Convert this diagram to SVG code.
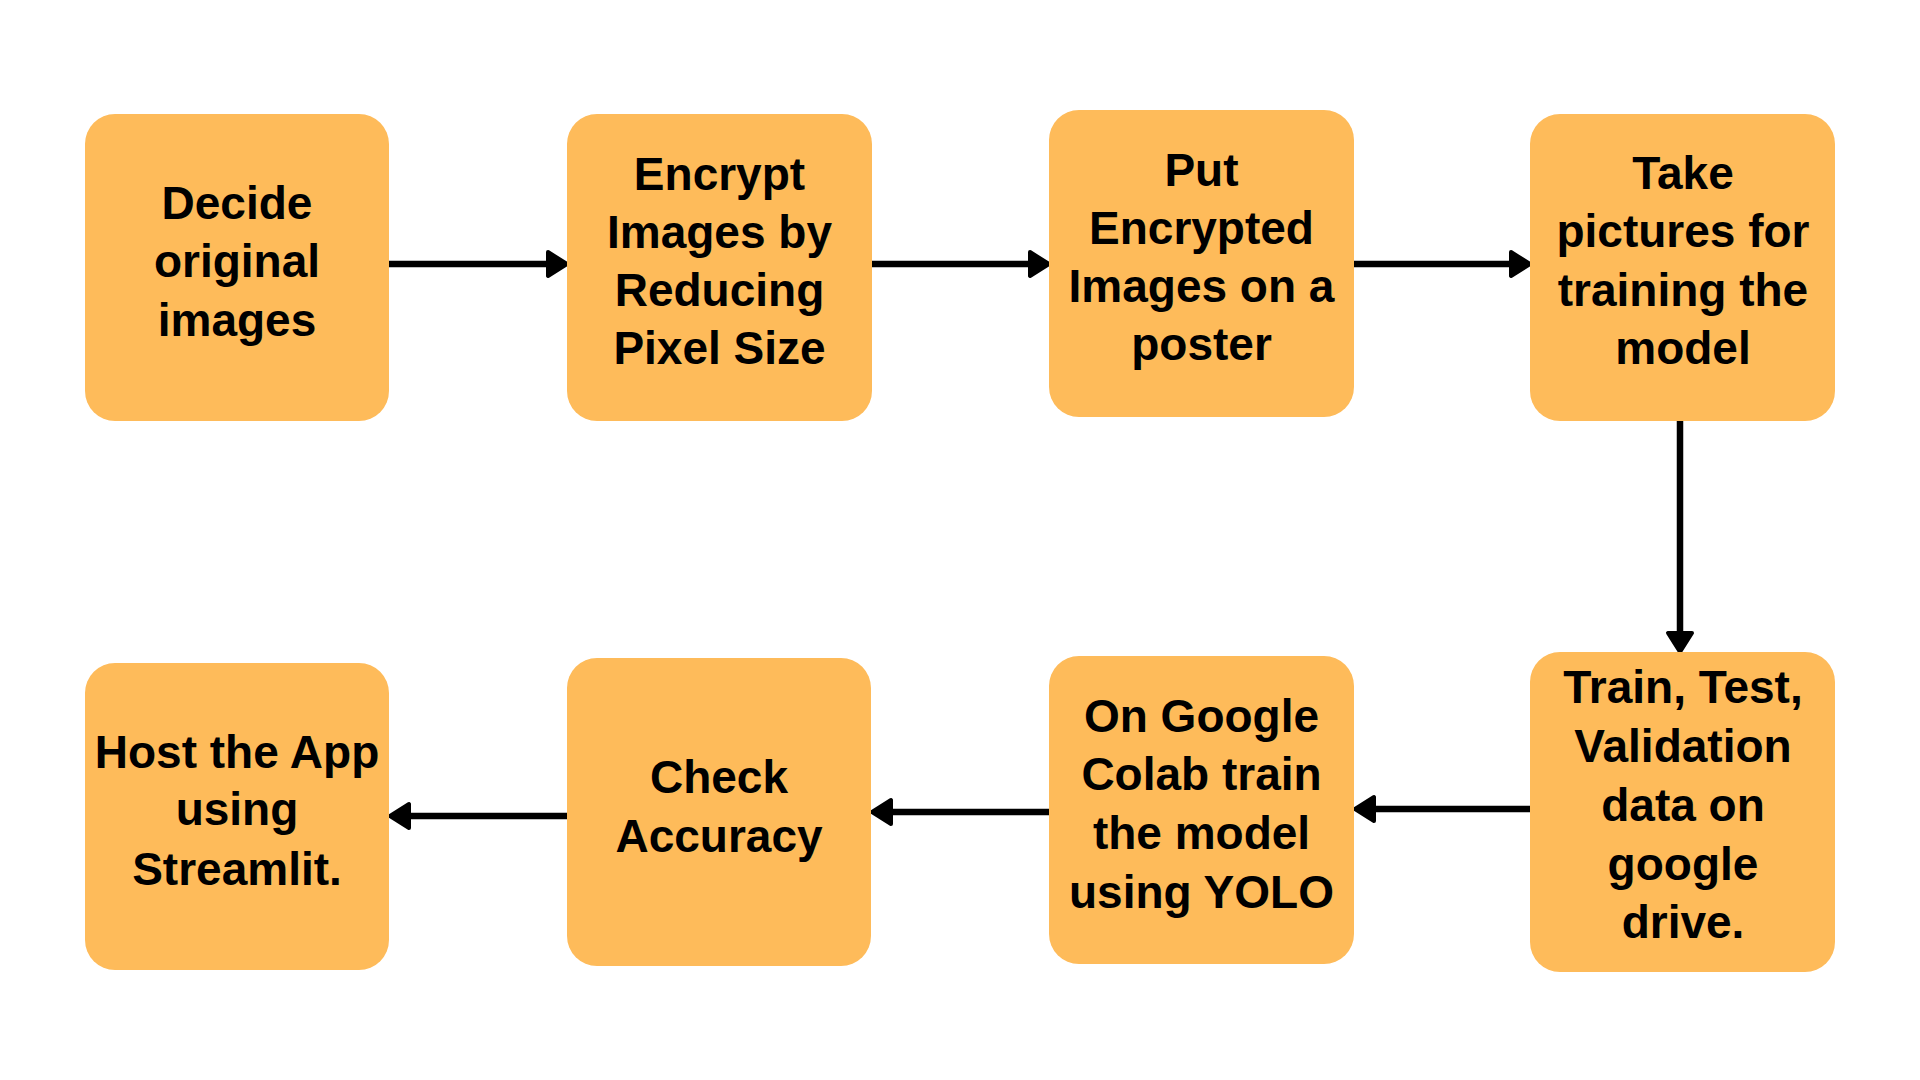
<svg xmlns="http://www.w3.org/2000/svg" width="1920" height="1080" viewBox="0 0 1920 1080">
<style>
.box{fill:#FEBB5A}
.t{font-family:"Liberation Sans",Arial,sans-serif;font-weight:bold;font-size:46px;fill:#000;text-anchor:middle}
.c{stroke:#000;stroke-width:6.5;fill:none}
</style>
<defs>
<marker id="ah" markerUnits="userSpaceOnUse" markerWidth="30" markerHeight="34" refX="2" refY="15" orient="auto" viewBox="0 0 30 34">
<path d="M3 3 L22 15 L3 27 Z" fill="#000" stroke="#000" stroke-width="4" stroke-linejoin="round"/>
</marker>
</defs>
<rect width="1920" height="1080" fill="#fff"/>
<g id="connectors">
<line class="c" x1="389" y1="264" x2="547" y2="264" marker-end="url(#ah)"/>
<line class="c" x1="872" y1="264" x2="1029" y2="264" marker-end="url(#ah)"/>
<line class="c" x1="1354" y1="264" x2="1510" y2="264" marker-end="url(#ah)"/>
<line class="c" x1="1680" y1="421" x2="1680" y2="632" marker-end="url(#ah)"/>
<line class="c" x1="1530" y1="809" x2="1375" y2="809" marker-end="url(#ah)"/>
<line class="c" x1="1049" y1="812" x2="892" y2="812" marker-end="url(#ah)"/>
<line class="c" x1="567" y1="816" x2="410" y2="816" marker-end="url(#ah)"/>
</g>
<g id="n1">
<rect class="box" x="85" y="114" width="304" height="307" rx="30"/>
<text class="t"><tspan x="237" y="219">Decide</tspan><tspan x="237" y="277">original</tspan><tspan x="237" y="336">images</tspan></text>
</g>
<g id="n2">
<rect class="box" x="567" y="114" width="305" height="307" rx="30"/>
<text class="t"><tspan x="719.5" y="190">Encrypt</tspan><tspan x="719.5" y="248">Images by</tspan><tspan x="719.5" y="306">Reducing</tspan><tspan x="719.5" y="364">Pixel Size</tspan></text>
</g>
<g id="n3">
<rect class="box" x="1049" y="110" width="305" height="307" rx="30"/>
<text class="t"><tspan x="1201.5" y="186">Put</tspan><tspan x="1201.5" y="244">Encrypted</tspan><tspan x="1201.5" y="302">Images on a</tspan><tspan x="1201.5" y="360">poster</tspan></text>
</g>
<g id="n4">
<rect class="box" x="1530" y="114" width="305" height="307" rx="30"/>
<text class="t"><tspan x="1683" y="189">Take</tspan><tspan x="1683" y="247">pictures for</tspan><tspan x="1683" y="306">training the</tspan><tspan x="1683" y="364">model</tspan></text>
</g>
<g id="n5">
<rect class="box" x="1530" y="652" width="305" height="320" rx="30"/>
<text class="t"><tspan x="1683" y="703">Train, Test,</tspan><tspan x="1683" y="762">Validation</tspan><tspan x="1683" y="821">data on</tspan><tspan x="1683" y="880">google</tspan><tspan x="1683" y="938">drive.</tspan></text>
</g>
<g id="n6">
<rect class="box" x="1049" y="656" width="305" height="308" rx="30"/>
<text class="t"><tspan x="1201.5" y="732">On Google</tspan><tspan x="1201.5" y="790">Colab train</tspan><tspan x="1201.5" y="849">the model</tspan><tspan x="1201.5" y="908">using YOLO</tspan></text>
</g>
<g id="n7">
<rect class="box" x="567" y="658" width="304" height="308" rx="30"/>
<text class="t"><tspan x="719" y="793">Check</tspan><tspan x="719" y="852">Accuracy</tspan></text>
</g>
<g id="n8">
<rect class="box" x="85" y="663" width="304" height="307" rx="30"/>
<text class="t"><tspan x="237" y="768">Host the App</tspan><tspan x="237" y="825">using</tspan><tspan x="237" y="885">Streamlit.</tspan></text>
</g>
</svg>
